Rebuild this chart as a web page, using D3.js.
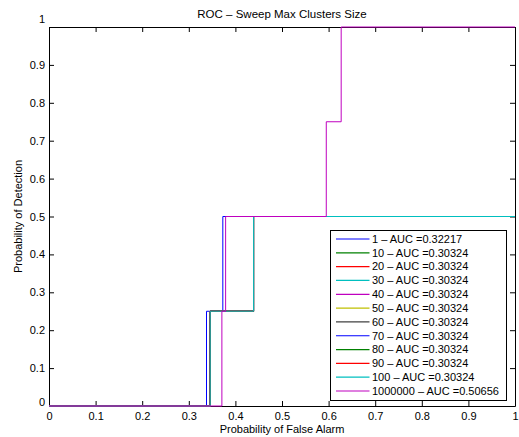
<!DOCTYPE html>
<html>
<head>
<meta charset="utf-8">
<script src="https://cdn.jsdelivr.net/npm/d3@7"></script>
<style>
    body { margin: 0; background: #fff; }
    svg text { font-family: "Liberation Sans", Arial, Helvetica, sans-serif; fill: #000; }
</style>
</head>
<body>
<div id="chart"></div>
<script>
// legend entries (max cluster size) and their AUC
const clusterSizes = ['1', '10', '20', '30', '40', '50', '60', '70', '80', '90', '100', '1000000'];
const aucValues = ['0.32217', '0.30324', '0.30324', '0.30324', '0.30324', '0.30324',
    '0.30324', '0.30324', '0.30324', '0.30324', '0.30324', '0.50656'];
const lineColors = ['#0000ff', '#008000', '#ff0000', '#00bfbf', '#bf00bf', '#bfbf00',
    '#404040', '#0000ff', '#008000', '#ff0000', '#00bfbf', '#bf00bf'];

// ROC curves (step corners)
const fprSize1 = [0, 0.338, 0.338, 0.373, 0.373, 1];
const tprSize1 = [0, 0, 0.25, 0.25, 0.5, 0.5];
const fprSizeMid = [0, 0.346, 0.346, 0.439, 0.439, 1];
const tprSizeMid = [0, 0, 0.25, 0.25, 0.5, 0.5];
const fprSizeMax = [0, 0.371, 0.371, 0.379, 0.379, 0.595, 0.595, 0.627, 0.627, 1];
const tprSizeMax = [0, 0, 0.25, 0.25, 0.5, 0.5, 0.75, 0.75, 1, 1];

const xTicks = [0, 0.1, 0.2, 0.3, 0.4, 0.5, 0.6, 0.7, 0.8, 0.9, 1];
const yTicks = [0, 0.1, 0.2, 0.3, 0.4, 0.5, 0.6, 0.7, 0.8, 0.9, 1];

const margin = { top: 27, right: 4, bottom: 31, left: 49 };
const width = 519 - margin.left - margin.right;
const height = 437 - margin.top - margin.bottom;

const curves = clusterSizes.map((size, i) => {
    let fpr = fprSizeMid, tpr = tprSizeMid;
    if (i === 0) { fpr = fprSize1; tpr = tprSize1; }
    if (i === clusterSizes.length - 1) { fpr = fprSizeMax; tpr = tprSizeMax; }
    return {
        label: `${size} \u2013 AUC =${aucValues[i]}`,
        color: lineColors[i],
        points: fpr.map((f, j) => [f, tpr[j]])
    };
});

const svg = d3.select('#chart')
    .append('svg')
    .attr('width', 519)
    .attr('height', 437);

const g = svg.append('g')
    .attr('transform', `translate(${margin.left}, ${margin.top})`);

const xScale = d3.scaleLinear().domain([0, 1]).range([0, width]);
const yScale = d3.scaleLinear().domain([0, 1]).range([height, 0]);

const fmt = d => d3.format('')(d);

// axes, ticks pointing inward on all four sides
g.append('g')
    .attr('transform', `translate(0, ${height})`)
    .call(d3.axisBottom(xScale).tickValues(xTicks).tickFormat(fmt).tickSize(-5).tickSizeOuter(0).tickPadding(6));

const yAxis = g.append('g')
    .call(d3.axisLeft(yScale).tickValues(yTicks).tickFormat(fmt).tickSize(-5).tickSizeOuter(0).tickPadding(4));

g.append('g')
    .call(d3.axisTop(xScale).tickValues(xTicks).tickFormat('').tickSize(-5).tickSizeOuter(0));

g.append('g')
    .attr('transform', `translate(${width}, 0)`)
    .call(d3.axisRight(yScale).tickValues(yTicks).tickFormat('').tickSize(-5).tickSizeOuter(0));

g.selectAll('.domain').attr('stroke', '#000');
g.selectAll('.tick line').attr('stroke', '#000');
g.selectAll('.tick text').style('font-size', '11px');

// matlab nudges the end labels of the y axis
yAxis.selectAll('.tick text')
    .filter(d => d === 1).attr('dy', '-0.45em');
yAxis.selectAll('.tick text')
    .filter(d => d === 0).attr('dy', '-0.05em');

// curves
const line = d3.line()
    .x(d => xScale(d[0]))
    .y(d => yScale(d[1]));

g.selectAll('.roc')
    .data(curves)
    .enter().append('path')
    .attr('class', 'roc')
    .attr('d', d => line(d.points))
    .attr('fill', 'none')
    .attr('stroke', d => d.color)
    .attr('stroke-width', 1);

// labels
svg.append('text')
    .attr('x', margin.left + width / 2)
    .attr('y', 18)
    .attr('text-anchor', 'middle')
    .style('font-size', '11.5px')
    .text('ROC \u2013 Sweep Max Clusters Size');

svg.append('text')
    .attr('x', margin.left + width / 2)
    .attr('y', 433)
    .attr('text-anchor', 'middle')
    .style('font-size', '11px')
    .text('Probability of False Alarm');

svg.append('text')
    .attr('transform', `translate(21.5, ${margin.top + height / 2}) rotate(-90)`)
    .attr('text-anchor', 'middle')
    .style('font-size', '11px')
    .text('Probability of Detection');

// legend
const legend = svg.append('g').attr('transform', 'translate(330.5, 230.5)');
legend.append('rect')
    .attr('width', 176)
    .attr('height', 170)
    .attr('fill', '#fff')
    .attr('stroke', '#000')
    .attr('stroke-width', 1);

const rows = legend.selectAll('.entry')
    .data(curves)
    .enter().append('g')
    .attr('class', 'entry')
    .attr('transform', (d, i) => `translate(0, ${8.5 + i * 13.82})`);

rows.append('line')
    .attr('x1', 5.5).attr('x2', 39)
    .attr('stroke', d => d.color)
    .attr('stroke-width', 1.2);

rows.append('text')
    .attr('x', 41.5)
    .attr('dy', '0.35em')
    .style('font-size', '11px')
    .text(d => d.label);
</script>
</body>
</html>
